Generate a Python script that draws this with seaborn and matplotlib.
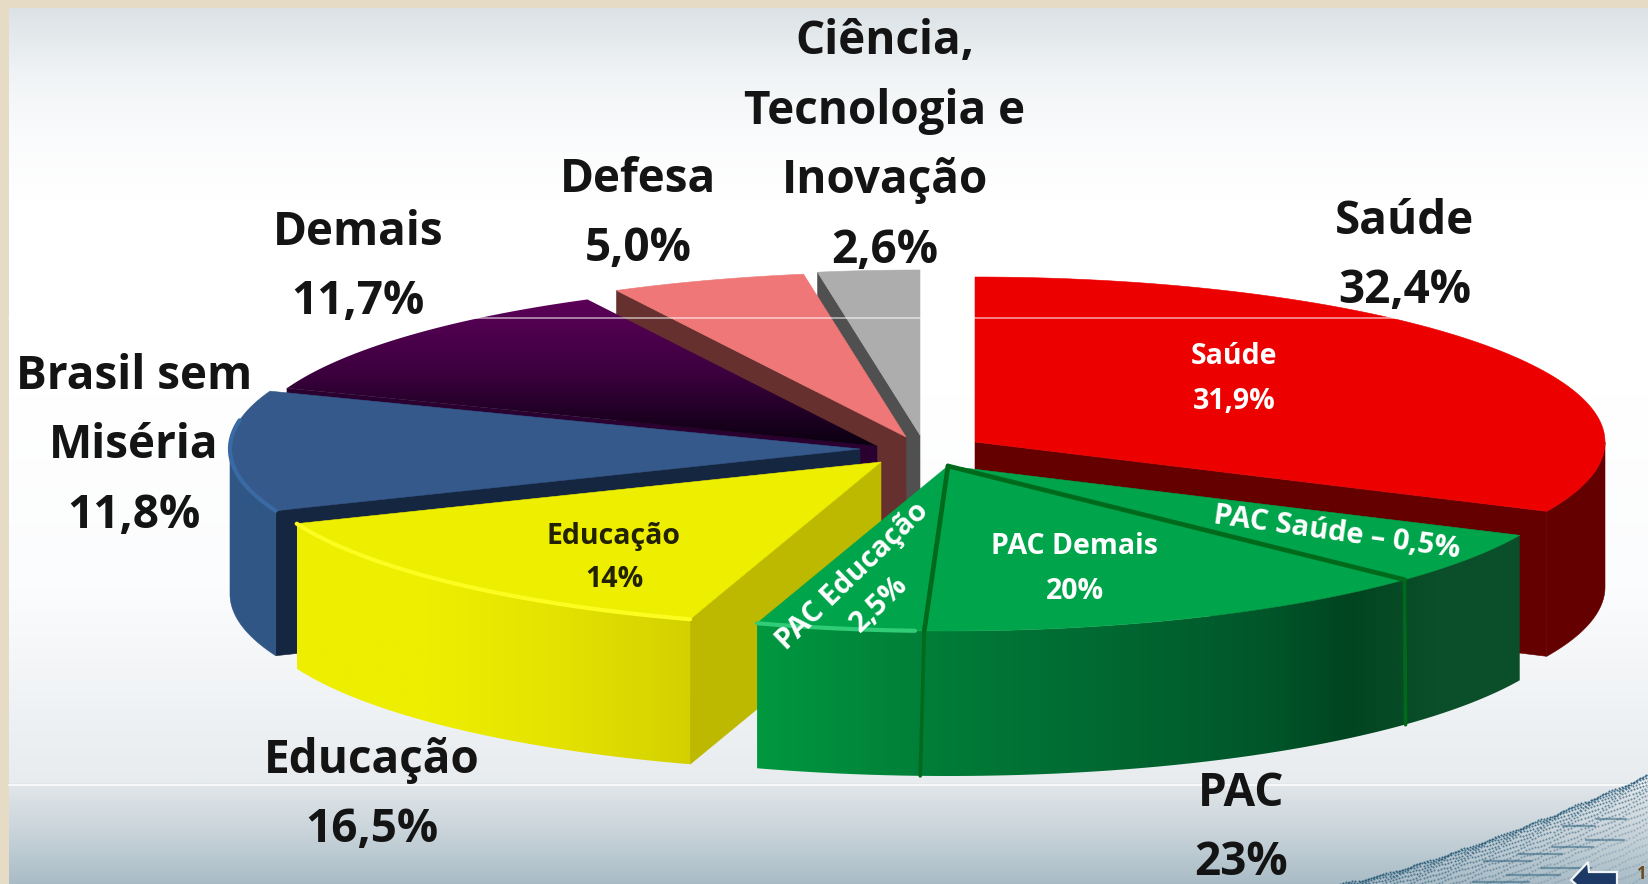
#!/usr/bin/env python3
import numpy as np
import seaborn as sns
import matplotlib
matplotlib.use('Agg')
import matplotlib.pyplot as plt
from matplotlib.patches import Polygon

# pie slices, clockwise from the top, drawn back to front further below
slice_names = ['Saúde', 'PAC', 'Educação', 'Brasil sem Miséria', 'Demais', 'Defesa', 'CT&I']
slice_values = [31.9, 23.0, 14.0, 11.8, 11.7, 5.0, 2.6]

# share of the PAC slice as the dividers are drawn in the picture
pac_names = ['PAC Saúde', 'PAC Demais', 'PAC Educação']
pac_drawn_shares = [5.2, 13.5, 4.3]

# outer labels
outer_labels = ['Saúde\n32,4%', 'PAC\n23%', 'Educação\n16,5%', 'Brasil sem\nMiséria\n11,8%',
                'Demais\n11,7%', 'Defesa\n5,0%', 'Ciência,\nTecnologia e\nInovação\n2,6%']
outer_x = [1405, 1241, 372, 134, 358, 638, 885]
outer_y = [256, 828, 795, 446, 267, 214, 146]

W, H = 1648, 884
CX, CY = 920, 445
RX, RY, DEPTH = 630, 165, 145
# where each slice was pulled to, relative to the pie centre
pull_x = [55, 28, -39, -60, -43, -14, 0]
pull_y = [-3, 21, 17, 4, 1, -8, -10]

top_colors = [['#ec0000'], ['#00a44a'], ['#eeee00'], ['#34598a'], ['#5c0058', '#3c003e', '#0a0010'],
              ['#ef7777'], ['#adadad']]
side_colors = [['#650000'],
               ['#00983f', '#008b3c', '#007e38', '#007335', '#006a32', '#00602e', '#00562a', '#004520',
                '#0a4f2a', '#0a4f2a'],
               ['#eeee00', '#eeee00', '#e4e200', '#d4d000'],
               ['#2f5685'], ['#200028'], ['#66302f'], ['#505050']]
cut_colors = ['#650000', '#00652f', '#bdb800', '#152640', '#2a0030', '#66302f', '#505050']
rim_colors = [None, '#30cc78', '#fcfc20', '#3a6aa3', None, None, None]

sns.set_theme(style='white')
plt.rcParams['font.family'] = ['Open Sans', 'DejaVu Sans']

fig = plt.figure(figsize=(W / 100, H / 100), dpi=100)
ax = fig.add_axes([0, 0, 1, 1])
ax.set_axis_off()


def grad_fill(xy, colors, z, vertical=False, extent=None):
    if len(colors) == 1:
        ax.add_patch(Polygon(xy, closed=True, fc=colors[0], ec=colors[0], lw=0.4, zorder=z))
        return
    cmap = sns.blend_palette(colors, n_colors=256, as_cmap=True)
    ramp = np.linspace(0, 1, 256)
    ramp = ramp[:, None] if vertical else ramp[None, :]
    if extent is None:
        extent = [xy[:, 0].min(), xy[:, 0].max(), xy[:, 1].max(), xy[:, 1].min()]
    im = ax.imshow(ramp, extent=extent, cmap=cmap, aspect='auto', zorder=z, origin='upper')
    clip = Polygon(xy, closed=True, fc='none', ec='none', transform=ax.transData)
    ax.add_patch(clip)
    im.set_clip_path(clip)


def rim(apex, theta):
    return np.column_stack([apex[0] + RX * np.sin(theta), apex[1] - RY * np.cos(theta)])


# background
ax.imshow(np.array([[0.0]]), extent=[0, W, H, 0], cmap=sns.blend_palette(['#e6dcc6', '#e6dcc6'], as_cmap=True),
          aspect='auto', zorder=0)
grad_fill(np.array([[9, 8], [W, 8], [W, 200], [9, 200]], dtype=float),
          ['#dbe2e5', '#f0f3f5', '#fafbfc', '#ffffff'], 1, vertical=True)
grad_fill(np.array([[9, 200], [W, 200], [W, 783], [9, 783]], dtype=float),
          ['#ffffff', '#ffffff', '#fbfcfd', '#e8ecef'], 1, vertical=True)
grad_fill(np.array([[9, 783], [W, 783], [W, H], [9, H]], dtype=float),
          ['#e2e7ea', '#c8d3d9', '#a9bcc6'], 1, vertical=True)
ax.plot([9, W], [785, 785], color='#f6f8f9', lw=1.5, zorder=2)

# wave in the corner
xs = np.linspace(1340, W, 200)
edge = 884 - 109 * ((xs - 1340) / 308) ** 1.25
for k in range(20):
    yy = edge + 0.9 * k ** 1.6 + 0.8 * np.sin(xs / 6 + k)
    ax.scatter(xs[k % 2::2], yy[k % 2::2], s=2.2, color='#1f5473', alpha=max(0.2, 0.85 - k * 0.045), lw=0, zorder=2)
for k, y0 in enumerate(range(812, 884, 7)):
    xa = 1540 + 13 * ((k * 5) % 7) - k * 8
    if y0 > 884 - 109 * ((xa - 1340) / 308) ** 1.25 + 12:
        ax.plot([xa, xa + 26 + 3 * k], [y0, y0], color='#2b5f7c', lw=1.6, alpha=0.5, zorder=2)

# pie
bounds = np.cumsum([0] + slice_values) * 2 * np.pi / 100
z = 3
for i in [6, 5, 4, 3, 0, 2, 1]:
    apex = (CX + pull_x[i], CY + pull_y[i])
    t0, t1 = bounds[i], bounds[i + 1]
    arc = np.linspace(t0, t1, 160)
    top = np.vstack([[apex], rim(apex, arc)])

    # cut faces that look towards the viewer
    for t, seen in ((t0, np.sin(t0) < -1e-9), (t1, np.sin(t1) > 1e-9)):
        if seen:
            p = rim(apex, np.array([t]))[0]
            face = np.array([apex, p, p + [0, DEPTH], [apex[0], apex[1] + DEPTH]])
            grad_fill(face, [cut_colors[i]], z)
            z += 1

    # outer wall, front half only
    a, b = max(t0, np.pi / 2), min(t1, 3 * np.pi / 2)
    if a < b:
        wall_arc = rim(apex, np.linspace(a, b, 160))
        wall = np.vstack([wall_arc, wall_arc[::-1] + [0, DEPTH]])
        grad_fill(wall, side_colors[i], z)
        z += 1

    grad_fill(top, top_colors[i], z, vertical=True)
    z += 1
    if rim_colors[i] and a < b:
        if i == 1:
            lit = rim(apex, np.linspace(np.radians(183), b, 40))
        elif i == 3:
            lit = rim(apex, np.linspace(a, np.radians(280), 60))
        else:
            lit = rim(apex, np.linspace(a, b, 160))
        ax.plot(lit[:, 0], lit[:, 1], color=rim_colors[i], lw=3, zorder=z)
        z += 1

# dividers inside the PAC slice
apex = np.array([CX + pull_x[1], CY + pull_y[1]], dtype=float)
pac_angle = bounds[1] + np.cumsum(pac_drawn_shares)[:2] * 2 * np.pi / 100
for t in pac_angle:
    p = rim(apex, np.array([t]))[0]
    ax.plot([apex[0], p[0]], [apex[1], p[1]], color='#006a1c', lw=3.4, zorder=z, solid_capstyle='round')
    ax.plot([p[0], p[0] - 4 if t > np.pi else p[0] + 1], [p[1], p[1] + DEPTH], color='#006a1c', lw=2.6, zorder=z)

# faint line crossing the upper part of the pie
ax.plot([9, W], [318, 318], color='white', lw=1.2, alpha=0.6, zorder=z + 1)

# navigation arrow
ax.add_patch(Polygon([[1571, 880], [1588, 862], [1589, 872], [1617, 872], [1617, 896], [1589, 896]],
                     closed=True, fc='#1d3a66', ec='#f2f5f7', lw=1.6, zorder=z + 1))
ax.text(1636, 874, '1', fontsize=12, color='#6a4a1e', ha='left', va='center', zorder=z + 1, fontweight='bold')

# outer labels
for lab, x, y in zip(outer_labels, outer_x, outer_y):
    ax.text(x, y, lab, ha='center', va='center', fontsize=33, fontweight='bold', color='#141414',
            linespacing=1.63, zorder=z + 2)

# labels on the slices
ax.text(1234, 379, 'Saúde\n31,9%', ha='center', va='center', fontsize=20.5, fontweight='bold', color='white',
        linespacing=1.72, zorder=z + 2)
ax.text(1075, 569, 'PAC Demais\n20%', ha='center', va='center', fontsize=20.5, fontweight='bold', color='white',
        linespacing=1.72, zorder=z + 2)
ax.text(614, 558, 'Educação\n14%', ha='center', va='center', fontsize=20.5, fontweight='bold', color='#222200',
        linespacing=1.6, zorder=z + 2)
ax.text(1337, 533, 'PAC Saúde – 0,5%', ha='center', va='center', fontsize=21, fontweight='bold', color='white',
        rotation=-8, rotation_mode='anchor', zorder=z + 2)
ax.text(866, 590, 'PAC Educação\n2,5%', ha='center', va='center', fontsize=21, fontweight='bold', color='white',
        rotation=44, rotation_mode='anchor', linespacing=1.45, zorder=z + 2)

ax.set_xlim(0, W)
ax.set_ylim(H, 0)
fig.savefig('out.png', dpi=100)
